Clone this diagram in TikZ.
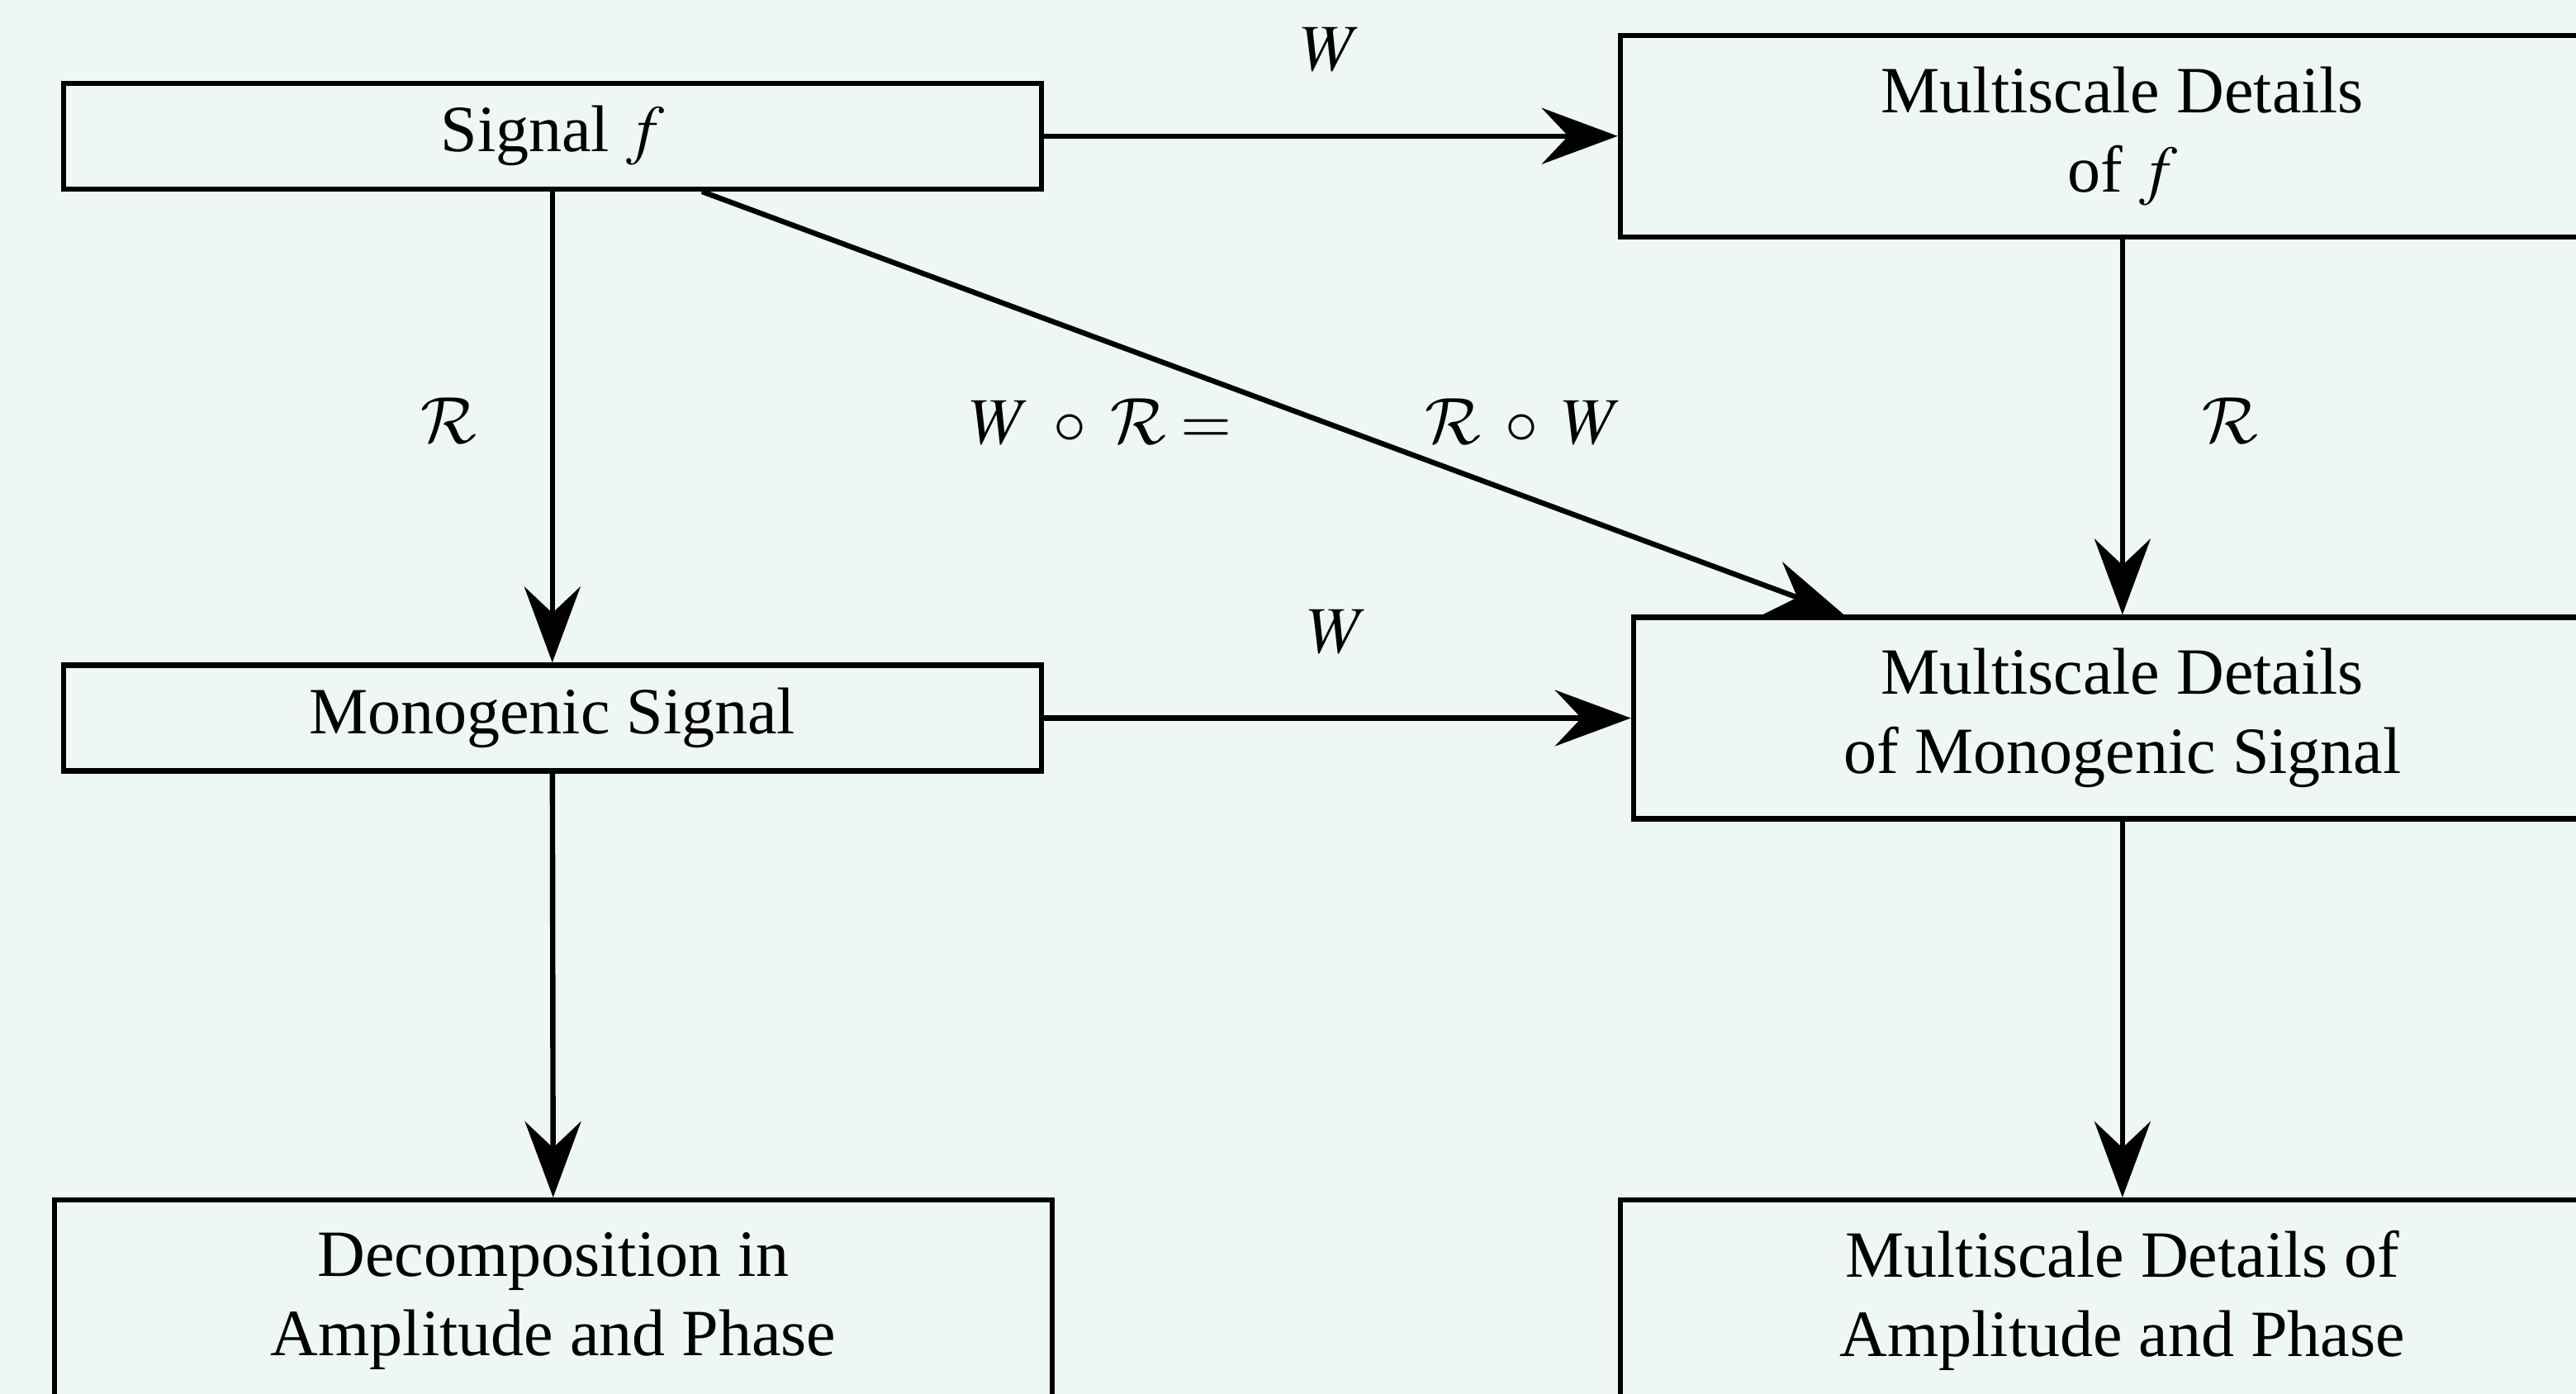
\documentclass[tikz,border=0pt]{standalone}
\usepackage{mathptmx}
\usepackage{fontspec}
\setmainfont{Liberation Serif}
\DeclareMathAlphabet{\mathcal}{OMS}{cmsy}{m}{n}
\usetikzlibrary{arrows.meta}
\definecolor{fond}{RGB}{238,247,241}
\begin{document}
\begin{tikzpicture}[x=1pt, y=1pt, thick,
  >={Stealth[length=11.5pt, width=8.5pt, inset=4pt]},
  boite/.style={draw, align=center, minimum width=148pt, minimum height=16pt, inner sep=0pt},
  grande/.style={boite, minimum height=30.5pt}]
  % Fond
  \useasboundingbox (0,0) rectangle (389.9,-211);
  \fill[fond] (0,0) rectangle (389.9,-211);
  % Colonne de gauche
  \node[boite] (sig) at (83.6,-20.6) {Signal $f$};
  \node[boite] (mono) at (83.6,-108.7) {Monogenic Signal};
  \node[grande, minimum width=151pt] (dec) at (83.75,-196.9) {Decomposition in\\Amplitude and Phase};
  % Colonne de droite
  \node[grande, minimum width=152pt] (mdf) at (321.25,-20.6) {Multiscale Details\\of $f$};
  \node[grande] (mdm) at (321.25,-108.7) {Multiscale Details\\of Monogenic Signal};
  \node[grande, minimum width=152pt] (mda) at (321.25,-196.9) {Multiscale Details of\\Amplitude and Phase};
  % Fleches
  \draw[->] (sig.east) -- node[above=6pt] {$W$} (mdf.west);
  \draw[->] (mono.east) -- node[above=6pt] {$W$} (mdm.west);
  \draw[->] (sig) -- node[left=7.7pt, yshift=1pt] {$\mathcal{R}$} (mono);
  \draw[->] (mdf) -- node[right=8.3pt, yshift=1pt] {$\mathcal{R}$} (mdm);
  \draw[->] (sig) -- node[pos=0.52, yshift=-1.5pt] {$W \;\circ\; \mathcal{R} = \hspace{27pt} \mathcal{R} \;\circ\; W$} (mdm);
  \draw[->] (mono) -- (dec);
  \draw[->] (mdm) -- (mda);
\end{tikzpicture}
\end{document}
